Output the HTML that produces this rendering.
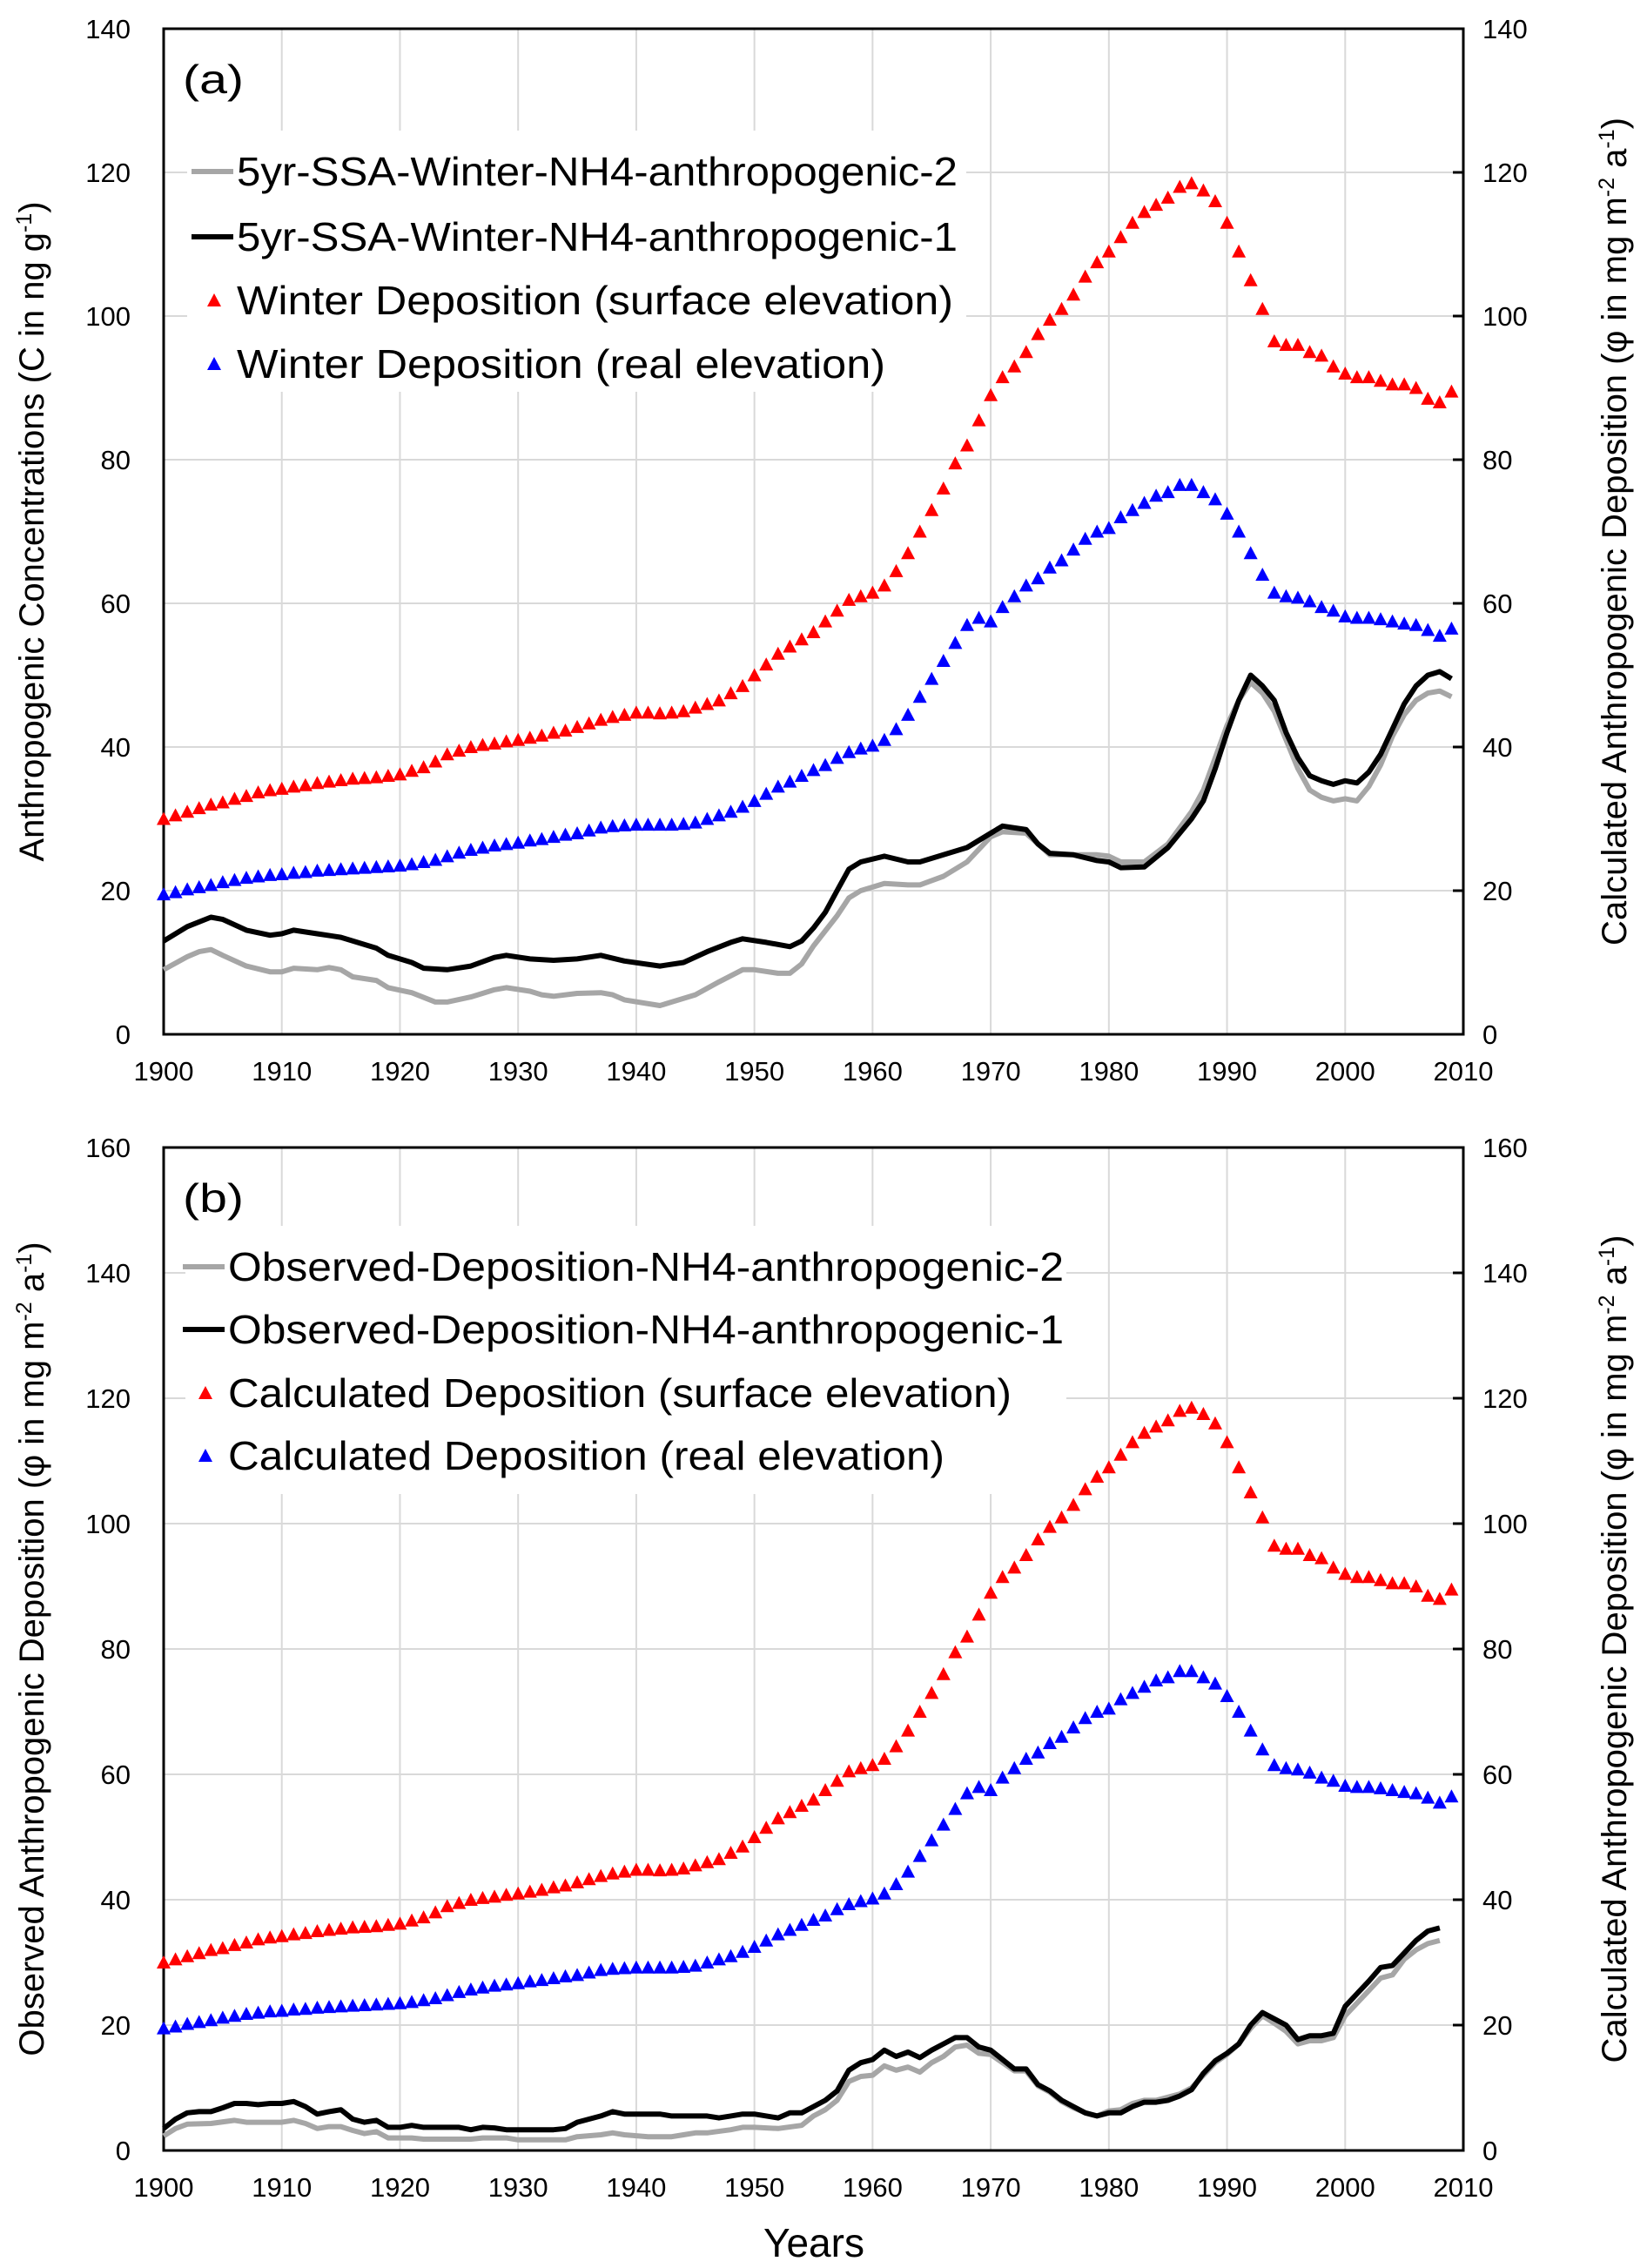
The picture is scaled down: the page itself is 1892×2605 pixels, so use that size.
<!DOCTYPE html>
<html><head><meta charset="utf-8">
<style>
html,body{margin:0;padding:0;background:#fff;}
svg{display:block;}
.tk{font-family:"Liberation Sans Narrow","Liberation Sans",sans-serif;font-size:31px;fill:#000;}
.lg{font-family:"Liberation Sans Narrow","Liberation Sans",sans-serif;font-size:46px;fill:#000;}
.at{font-family:"Liberation Sans",sans-serif;font-size:40px;fill:#000;}
</style></head>
<body>
<svg id="chart" width="1892" height="2605" viewBox="0 0 1892 2605" xmlns="http://www.w3.org/2000/svg"></svg>
<script>
const redYears = [];
for (let y = 1900; y <= 2009; y++) redYears.push(y);
const redVals = [30,30.5,31,31.5,32,32.3,32.8,33.2,33.7,34,
34.2,34.5,34.7,35,35.2,35.4,35.6,35.7,35.8,36,
36.2,36.7,37.2,38,39,39.5,40,40.3,40.5,40.8,
41,41.3,41.6,42,42.3,42.8,43.3,43.8,44.2,44.5,
44.8,44.8,44.7,44.8,45,45.5,46,46.5,47.5,48.5,
50,51.5,53,54,55,56,57.5,59,60.5,61,
61.5,62.5,64.5,67,70,73,76,79.5,82,85.5,
89,91.5,93,95,97.5,99.5,101,103,105.5,107.5,
109,111,113,114.5,115.5,116.5,118,118.5,117.5,116,
113,109,105,101,96.5,96,96,95,94.5,93,
92,91.5,91.5,91,90.5,90.5,90,88.5,88,89.5];
const blueVals = [19.5,19.8,20.2,20.5,20.8,21.2,21.5,21.8,22,22.2,
22.3,22.5,22.6,22.8,22.9,23,23.1,23.2,23.3,23.4,
23.5,23.7,24,24.3,24.8,25.3,25.7,26,26.3,26.5,
26.7,27,27.2,27.5,27.8,28,28.4,28.8,29,29.1,
29.2,29.2,29.2,29.2,29.3,29.5,30,30.5,31,31.7,
32.5,33.5,34.5,35.2,36,36.8,37.5,38.5,39.3,39.8,
40.2,41,42.5,44.5,47,49.5,52,54.5,57,58,
57.5,59.5,61,62.5,63.5,65,66,67.5,69,70,
70.5,72,73,74,75,75.5,76.5,76.5,75.5,74.5,
72.5,70,67,64,61.5,61,60.8,60.3,59.5,59,
58.2,58,58,57.8,57.5,57.2,57,56.3,55.5,56.5];

const aBlackYears = [1900,1902,1904,1905,1907,1909,1910,1911,1913,1915,1916,1918,1919,1921,1922,1924,1926,1928,1929,1931,1933,1935,1937,1939,1942,1944,1946,1948,1949,1951,1953,1954,1955,1956,1957,1958,1959,1961,1963,1964,1966,1968,1970,1971,1973,1974,1975,1977,1979,1980,1981,1983,1985,1987,1988,1989,1990,1991,1992,1993,1994,1995,1996,1997,1998,1999,2000,2001,2002,2003,2004,2005,2006,2007,2008,2009];
const aBlackVals = [13,15,16.3,16,14.5,13.8,14,14.5,14,13.5,13,12,11,10,9.2,9,9.5,10.7,11,10.5,10.3,10.5,11,10.2,9.5,10,11.5,12.8,13.3,12.8,12.2,13,14.8,17,20,23,24,24.8,24,24,25,26,28,29,28.5,26.5,25.2,25,24.2,24,23.2,23.3,26,30,32.5,37,42,46.5,50,48.5,46.5,42,38.5,36,35.3,34.8,35.3,35,36.5,39,42.5,46,48.5,50,50.5,49.5];
const aGrayYears = [1900,1902,1903,1904,1905,1907,1909,1910,1911,1913,1914,1915,1916,1918,1919,1921,1923,1924,1926,1928,1929,1931,1932,1933,1935,1937,1938,1939,1942,1943,1945,1947,1949,1950,1952,1953,1954,1955,1957,1958,1959,1961,1963,1964,1966,1968,1970,1971,1973,1975,1977,1979,1980,1981,1983,1985,1987,1988,1989,1990,1991,1992,1993,1994,1995,1996,1997,1998,1999,2000,2001,2002,2003,2004,2005,2006,2007,2008,2009];
const aGrayVals = [9,10.8,11.5,11.8,11,9.5,8.7,8.7,9.2,9,9.3,9,8,7.5,6.5,5.8,4.5,4.5,5.2,6.2,6.5,6,5.5,5.3,5.7,5.8,5.5,4.8,4,4.5,5.5,7.3,9,9,8.5,8.5,9.8,12.3,16.5,19,20,21,20.8,20.8,22,24,27.5,28.2,28,25,25,25,24.8,24,24,26.5,31,34,38.5,43,46.5,49,47.5,45,41,37,34,33,32.5,32.8,32.5,34.5,37.5,41.5,44.5,46.5,47.5,47.8,47];

const bBlackYears = [1900,1901,1902,1903,1904,1905,1906,1907,1908,1909,1910,1911,1912,1913,1914,1915,1916,1917,1918,1919,1920,1921,1922,1925,1926,1927,1928,1929,1933,1934,1935,1936,1937,1938,1939,1942,1943,1946,1947,1948,1949,1950,1952,1953,1954,1955,1956,1957,1958,1959,1960,1961,1962,1963,1964,1965,1966,1967,1968,1969,1970,1971,1972,1973,1974,1975,1976,1977,1978,1979,1980,1981,1982,1983,1984,1985,1986,1987,1988,1989,1990,1991,1992,1993,1994,1995,1996,1997,1998,1999,2000,2001,2002,2003,2004,2005,2006,2007,2008];
const bBlackVals = [3.5,5,6,6.2,6.2,6.8,7.5,7.5,7.3,7.5,7.5,7.8,7,5.8,6.2,6.5,5,4.5,4.8,3.7,3.7,4,3.7,3.7,3.3,3.7,3.6,3.3,3.3,3.5,4.5,5,5.5,6.2,5.8,5.8,5.5,5.5,5.2,5.5,5.8,5.8,5.2,6,6,7,8,9.5,12.8,14,14.5,16,15,15.7,14.8,16,17,18,18,16.5,16,14.5,13,13,10.5,9.5,8,7,6,5.5,6,6,7,7.7,7.7,8,8.7,9.7,12.3,14.3,15.5,17,20,22,21,20,17.7,18.3,18.3,18.7,23,25,27,29.2,29.5,31.5,33.5,35,35.5];
const bGrayYears = [1900,1901,1902,1904,1906,1907,1910,1911,1912,1913,1914,1915,1916,1917,1918,1919,1921,1922,1926,1927,1929,1930,1934,1935,1937,1938,1939,1941,1943,1944,1945,1946,1948,1949,1950,1952,1954,1955,1956,1957,1958,1959,1960,1961,1962,1963,1964,1965,1966,1967,1968,1969,1970,1971,1972,1973,1974,1975,1976,1977,1978,1979,1980,1981,1982,1983,1984,1985,1986,1987,1988,1989,1990,1991,1992,1993,1994,1995,1996,1997,1998,1999,2000,2001,2002,2003,2004,2005,2006,2007,2008];
const bGrayVals = [2.3,3.5,4.2,4.3,4.8,4.5,4.5,4.8,4.3,3.5,3.8,3.8,3.2,2.7,3,2,2,1.8,1.8,2,2,1.7,1.7,2.2,2.5,2.8,2.5,2.2,2.2,2.5,2.8,2.8,3.3,3.7,3.7,3.5,4,5.5,6.5,8,11,11.8,12,13.5,12.8,13.3,12.5,14,15,16.5,16.8,15.5,15.3,14,12.7,12.7,10.3,9.3,7.8,6.8,6,5.5,6.3,6.5,7.5,8,8,8.5,9,10,12,14,15.3,17,19.5,21.5,20.3,19,17,17.5,17.5,18,21.5,23.5,25.5,27.5,28,30.5,32,33,33.5];

const xTicks = [1900,1910,1920,1930,1940,1950,1960,1970,1980,1990,2000,2010];
const aYTicks = [0,20,40,60,80,100,120,140];
const bYTicks = [0,20,40,60,80,100,120,140,160];

const NS = "http://www.w3.org/2000/svg";
const svg = document.getElementById('chart');
function mk(tag, attrs, parent, text) {
  const e = document.createElementNS(NS, tag);
  for (const k in attrs) e.setAttribute(k, attrs[k]);
  if (text !== undefined) e.textContent = text;
  (parent || svg).appendChild(e);
  return e;
}
const SUP = (s) => `<tspan dy="-14" font-size="25">${s}</tspan>`;

function panel(cfg) {
  const g = mk('g', {});
  
  
  const X0 = 188, X1 = 1681;
  const xs = v => X0 + (v - 1900) / 110 * (X1 - X0);
  const ys = v => cfg.y0 - v / cfg.ymax * (cfg.y0 - cfg.y1);
  const grid = mk('g', {}, g);
  
  
  xTicks.forEach(t => { if (t > 1900 && t < 2010) mk('line', {x1: xs(t), x2: xs(t), y1: cfg.y1, y2: cfg.y0, stroke: '#d9d9d9', 'stroke-width': 2}, grid); });
  cfg.yTicks.forEach(t => { if (t > 0) mk('line', {x1: X0, x2: X1, y1: ys(t), y2: ys(t), stroke: '#d9d9d9', 'stroke-width': 2}, grid); });
  const lb = mk('rect', {x: cfg.lgBox[0], y: cfg.lgBox[1], width: cfg.lgBox[2], height: cfg.lgBox[3], fill: '#fff'}, g);
  
  
  mk('rect', {x: X0, y: cfg.y1, width: X1 - X0, height: cfg.y0 - cfg.y1, fill: 'none', stroke: '#000', 'stroke-width': 3}, g);
  cfg.yTicks.forEach(t => {
    const l = mk('text', {x: 150, y: ys(t) + 11, 'text-anchor': 'end', class: 'tk'}, g, String(t));
    
    
    const r = mk('text', {x: 1703, y: ys(t) + 11, 'text-anchor': 'start', class: 'tk'}, g, String(t));
    
    
    mk('line', {x1: X1 - 12, x2: X1, y1: ys(t), y2: ys(t), stroke: '#000', 'stroke-width': 3}, g);
  });
  xTicks.forEach(t => {
    const l = mk('text', {x: xs(t), y: cfg.y0 + 53, 'text-anchor': 'middle', class: 'tk'}, g, String(t));
    
    
  });
  function line(years, vals, color, w, name) {
    const d = years.map((y, i) => (i ? 'L' : 'M') + xs(y).toFixed(1) + ',' + ys(vals[i]).toFixed(1)).join('');
    const p = mk('path', {d: d, fill: 'none', stroke: color, 'stroke-width': w, 'stroke-linejoin': 'round'}, g);
    
    
  }
  line(cfg.gy, cfg.gv, '#a6a6a6', 6, 'series-gray-line');
  line(cfg.by, cfg.bv, '#000', 6, 'series-black-line');
  function tris(vals, color, name) {
    const tg = mk('g', {fill: color}, g);
    
    
    redYears.forEach((y, i) => {
      const cx = xs(y), cy = ys(vals[i]);
      const t = mk('path', {d: `M${cx-8},${cy+7}L${cx+8},${cy+7}L${cx},${cy-8}Z`}, tg);
      
      
    });
  }
  tris(redVals, '#ff0000', 'series-surface-elevation');
  tris(blueVals, '#0000ff', 'series-real-elevation');
  const pl = mk('text', {x: 210, y: cfg.y1 + 74, class: 'lg', 'font-size': '54', textLength: 70, lengthAdjust: 'spacingAndGlyphs'}, g, cfg.label);
  
  
  const lx = cfg.lgX;
  cfg.lg.forEach((txt, i) => {
    const y = cfg.lgY[i];
    const e = mk('g', {}, g);
    
    
    if (i === 0) mk('line', {x1: lx - 52, x2: lx - 4, y1: y, y2: y, stroke: '#a6a6a6', 'stroke-width': 6}, e);
    else if (i === 1) mk('line', {x1: lx - 52, x2: lx - 4, y1: y, y2: y, stroke: '#000', 'stroke-width': 6}, e);
    else { const cx = lx - 26; mk('path', {d: `M${cx-8},${y+7}L${cx+8},${y+7}L${cx},${y-8}Z`, fill: i === 2 ? '#ff0000' : '#0000ff'}, e); }
    mk('text', {x: lx, y: y + 16, class: 'lg', textLength: cfg.lgW[i], lengthAdjust: 'spacingAndGlyphs'}, e, txt);
  });
  const cy = (cfg.y0 + cfg.y1) / 2;
  const lt = mk('text', {x: 0, y: 0, class: 'at', 'text-anchor': 'middle', transform: `translate(50,${cy}) rotate(-90)`}, g);
  
  
  lt.innerHTML = cfg.leftTitle;
  const rt = mk('text', {x: 0, y: 0, class: 'at', 'text-anchor': 'middle', transform: `translate(1868,${cy}) rotate(-90)`}, g);
  
  
  rt.innerHTML = 'Calculated Anthropogenic Deposition (φ in mg m' + SUP('-2') + '<tspan dy="14"> a</tspan>' + SUP('-1') + '<tspan dy="14">)</tspan>';
}

panel({name: 'panel-a', y0: 1188, y1: 33, ymax: 140, yTicks: aYTicks, label: '(a)',
  gy: aGrayYears, gv: aGrayVals, by: aBlackYears, bv: aBlackVals,
  lgBox: [215, 150, 895, 300], lgX: 272, lgY: [197, 272, 345, 418], lgW: [828, 828, 823, 745],
  lg: ['5yr-SSA-Winter-NH4-anthropogenic-2', '5yr-SSA-Winter-NH4-anthropogenic-1', 'Winter Deposition (surface elevation)', 'Winter Deposition (real elevation)'],
  leftTitle: 'Anthropogenic Concentrations (C in ng g' + SUP('-1') + '<tspan dy="14">)</tspan>'});
panel({name: 'panel-b', y0: 2470, y1: 1318, ymax: 160, yTicks: bYTicks, label: '(b)',
  gy: bGrayYears, gv: bGrayVals, by: bBlackYears, bv: bBlackVals,
  lgBox: [213, 1408, 1012, 308], lgX: 262, lgY: [1455, 1527, 1600, 1672], lgW: [960, 960, 900, 823],
  lg: ['Observed-Deposition-NH4-anthropogenic-2', 'Observed-Deposition-NH4-anthropogenic-1', 'Calculated Deposition (surface elevation)', 'Calculated Deposition (real elevation)'],
  leftTitle: 'Observed Anthropogenic Deposition (φ in mg m' + SUP('-2') + '<tspan dy="14"> a</tspan>' + SUP('-1') + '<tspan dy="14">)</tspan>'});

const xt = mk('text', {x: 935, y: 2592, class: 'lg', 'font-size': '40', 'text-anchor': 'middle'}, svg, 'Years');


</script>
</body></html>
